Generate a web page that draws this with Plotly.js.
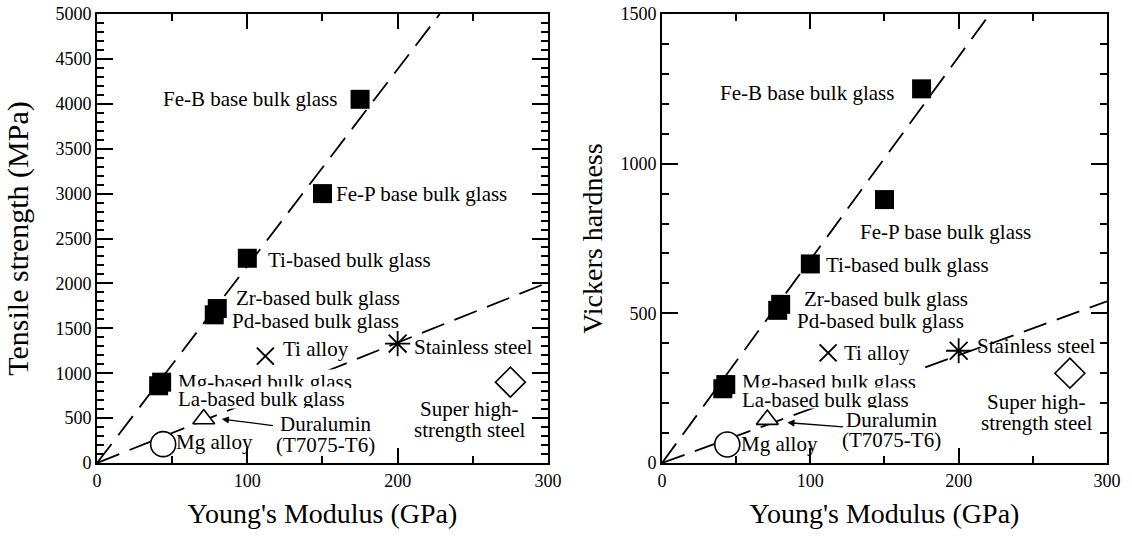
<!DOCTYPE html>
<html>
<head>
<meta charset="utf-8">
<script src="https://cdn.plot.ly/plotly-3.0.1.min.js"></script>
<style>
html,body{margin:0;padding:0;background:#fff;}
#chart{width:1132px;height:537px;}
</style>
</head>
<body>
<div id="chart"></div>
<script>
// ---- data ----
const materials = ['Fe-B base bulk glass', 'Fe-P base bulk glass', 'Ti-based bulk glass',
  'Zr-based bulk glass', 'Pd-based bulk glass', 'Mg-based bulk glass', 'La-based bulk glass',
  'Ti alloy', 'Stainless steel', 'Super high-strength steel', 'Duralumin (T7075-T6)', 'Mg alloy'];
const labelLines = [['Fe-B base bulk glass'], ['Fe-P base bulk glass'], ['Ti-based bulk glass'],
  ['Zr-based bulk glass'], ['Pd-based bulk glass'], ['Mg-based bulk glass'], ['La-based bulk glass'],
  ['Ti alloy'], ['Stainless steel'], ['Super high-', 'strength steel'], ['Duralumin', '(T7075-T6)'], ['Mg alloy']];
const materialGroup = ['glass', 'glass', 'glass', 'glass', 'glass', 'glass', 'glass',
  'tialloy', 'stainless', 'superhigh', 'duralumin', 'mgalloy'];
const youngsModulus = [175, 150, 100, 80, 78, 43, 41, 112, 200, 275, 71, 44];
const tensileStrength = [4050, 3000, 2280, 1720, 1650, 900, 860, 1190, 1330, 900, 490, 210];
const vickersHardness = [1250, 880, 665, 530, 510, 262, 248, 368, 375, 300, 145, 62];

// dashed guide lines (end points)
const strengthUpperE = [0, 228], strengthUpperV = [0, 5000];
const strengthLowerE = [0, 300], strengthLowerV = [0, 2010];
const hardnessUpperE = [0, 221], hardnessUpperV = [0, 1500];
const hardnessLowerE = [0, 300], hardnessLowerV = [0, 540];

// ---- styling / placement ----
const FONT = "'Liberation Serif', 'Times New Roman', serif";
const markerStyle = {
  glass:     {symbol: 'square', size: 19, color: '#000', line: {color: '#000', width: 0}},
  tialloy:   {symbol: 'x-thin', size: 17, color: '#000', line: {color: '#000', width: 2}},
  stainless: {symbol: 'asterisk', size: 21, color: '#000', line: {color: '#000', width: 1.8}},
  superhigh: {symbol: 'diamond', size: 23, color: '#fff', line: {color: '#000', width: 1.6}},
  duralumin: {symbol: 'triangle-up', size: 19, color: '#fff', line: {color: '#000', width: 1.6}},
  mgalloy:   {symbol: 'circle', size: 25, color: '#fff', line: {color: '#000', width: 1.6}}
};
// label placement: [x, [y per line], anchor, whiteBackground, boxHeight]
const placeLeft = [
  [160, [4050], 'right'], [158, [3000], 'left'], [113, [2265], 'left'],
  [92, [1835], 'left'], [89, [1585], 'left'], [53, [935], 'left', true, 18], [53, [735], 'left', true, 21],
  [123, [1275], 'left'], [210, [1290], 'left'], [248, [600, 362], 'center'],
  [152, [435, 195], 'center'], [52, [230], 'left']
];
const placeRight = [
  [157, [1236], 'right'], [133, [773], 'left'], [110, [662], 'left'],
  [95, [549], 'left'], [90.5, [476], 'left'], [53, [282], 'left', true, 18], [53.5, [217], 'left', true, 20],
  [122, [367], 'left'], [212, [390], 'left'], [252.5, [204, 133], 'center'],
  [155, [144, 76], 'center'], [52.5, [62], 'left']
];
const arrowLeft = {tail: [118, 415], head: [83, 489]};
const arrowRight = {tail: [123, 120], head: [84.5, 135]};

const traces = [];
function addChart(xa, ya, yVals, upE, upV, loE, loV) {
  const dash = {color: '#000', width: 1.8, dash: '24px,11px'};
  traces.push({x: upE, y: upV, mode: 'lines', line: dash, xaxis: xa, yaxis: ya, showlegend: false, hoverinfo: 'skip'});
  traces.push({x: loE, y: loV, mode: 'lines', line: dash, xaxis: xa, yaxis: ya, showlegend: false, hoverinfo: 'skip'});
  Object.keys(markerStyle).forEach(g => {
    const idx = materialGroup.map((m, i) => m === g ? i : -1).filter(i => i >= 0);
    traces.push({
      x: idx.map(i => youngsModulus[i]), y: idx.map(i => yVals[i]),
      text: idx.map(i => materials[i]),
      mode: 'markers', marker: markerStyle[g], xaxis: xa, yaxis: ya,
      showlegend: false, cliponaxis: false, hovertemplate: '%{text}: %{x}, %{y}<extra></extra>'
    });
  });
}
addChart('x', 'y', tensileStrength, strengthUpperE, strengthUpperV, strengthLowerE, strengthLowerV);
addChart('x2', 'y2', vickersHardness, hardnessUpperE, hardnessUpperV, hardnessLowerE, hardnessLowerV);

const annotations = [];
function addLabels(place, xr, yr, arrow) {
  place.forEach((p, i) => {
    labelLines[i].forEach((t, j) => {
      const a = {
        x: p[0], y: p[1][j], xref: xr, yref: yr, text: t, showarrow: false,
        xanchor: p[2], yanchor: 'middle', font: {family: FONT, size: 21, color: '#000'},
        bgcolor: p[3] ? '#fff' : 'rgba(0,0,0,0)', borderpad: 0
      };
      if (p[4]) { a.height = p[4]; a.valign = 'top'; }
      annotations.push(a);
    });
  });
  annotations.push({
    x: arrow.head[0], y: arrow.head[1], ax: arrow.tail[0], ay: arrow.tail[1],
    xref: xr, yref: yr, axref: xr, ayref: yr, text: '', showarrow: true,
    arrowhead: 2, arrowsize: 1.1, arrowwidth: 1.3, arrowcolor: '#000', standoff: 0
  });
}
addLabels(placeLeft, 'x', 'y', arrowLeft);
addLabels(placeRight, 'x2', 'y2', arrowRight);

function xAxis(domain, anchor) {
  return {
    domain: domain, anchor: anchor, range: [0, 300], tick0: 0, dtick: 100,
    ticks: 'inside', ticklen: 15, tickwidth: 2, tickcolor: '#000',
    minor: {dtick: 50, ticks: 'inside', ticklen: 7, tickwidth: 2, tickcolor: '#000'},
    showline: true, linewidth: 2, linecolor: '#000', mirror: 'ticks',
    showgrid: false, zeroline: false,
    tickfont: {family: FONT, size: 18, color: '#000'},
    title: {text: "Young's Modulus (GPa)", font: {family: FONT, size: 28, color: '#000'}, standoff: 14}
  };
}
function yAxis(range, anchor, title, size, standoff) {
  return {
    domain: [0, 1], anchor: anchor, range: range, tick0: 0, dtick: 500,
    ticks: 'inside', ticklen: 16, tickwidth: 2, tickcolor: '#000',
    minor: {dtick: 100, ticks: 'inside', ticklen: 7, tickwidth: 2, tickcolor: '#000'},
    showline: true, linewidth: 2, linecolor: '#000', mirror: 'ticks',
    showgrid: false, zeroline: false,
    tickfont: {family: FONT, size: 18, color: '#000'},
    title: {text: title, font: {family: FONT, size: size, color: '#000'}, standoff: standoff}
  };
}

const layout = {
  width: 1132, height: 537,
  margin: {l: 97, r: 25, t: 14, b: 74},
  paper_bgcolor: 'white', plot_bgcolor: 'white',
  font: {family: FONT, color: '#000'},
  showlegend: false,
  xaxis: xAxis([0, 0.4465], 'y'),
  yaxis: yAxis([0, 5000], 'x', 'Tensile strength (MPa)', 30, 18),
  xaxis2: xAxis([0.5594, 1], 'y2'),
  yaxis2: yAxis([0, 1500], 'x2', 'Vickers hardness', 28, 10),
  annotations: annotations
};

Plotly.newPlot('chart', traces, layout, {displayModeBar: false});
</script>
</body>
</html>
